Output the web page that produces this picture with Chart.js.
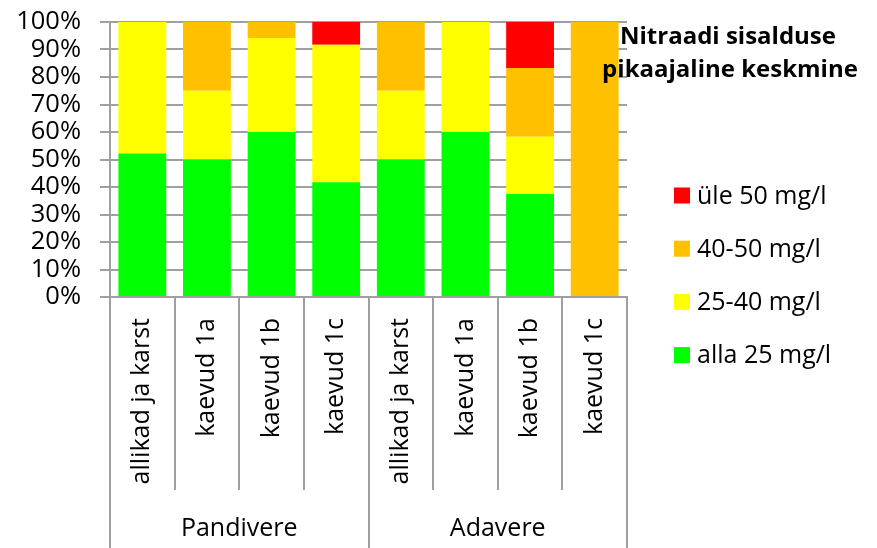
<!DOCTYPE html>
<html>
<head>
<meta charset="utf-8">
<script src="https://cdn.jsdelivr.net/npm/chart.js@4"></script>
<style>
html,body{margin:0;padding:0;background:#fff;}
#wrap{width:877px;height:548px;position:relative;}
</style>
</head>
<body>
<div id="wrap"><canvas id="c" width="877" height="548"></canvas></div>
<script>
const categories = ['allikad ja karst','kaevud 1a','kaevud 1b','kaevud 1c','allikad ja karst','kaevud 1a','kaevud 1b','kaevud 1c'];
const groups = ['Pandivere','Adavere'];
const alla25 = [52.2, 50, 60, 41.7, 50, 60, 37.5, 0];
const v25_40 = [47.8, 25, 34.2, 50, 25, 40, 20.8, 0];
const v40_50 = [0, 25, 5.8, 0, 25, 0, 25, 100];
const yle50  = [0, 0, 0, 8.3, 0, 0, 16.7, 0];
const seriesNames = ['alla 25 mg/l','25-40 mg/l','40-50 mg/l','üle 50 mg/l'];
const seriesColors = ['#00FF00','#FFFF00','#FFC000','#FF0000'];
const yTicks = [0,10,20,30,40,50,60,70,80,90,100];
const titleLines = ['Nitraadi sisalduse','pikaajaline keskmine'];

const FONT = "'Open Sans', sans-serif";
const GRID = '#a0a0a0';

const customLegendTitle = {
  id: 'customLegendTitle',
  afterDraw(chart) {
    const ctx = chart.ctx;
    ctx.save();
    ctx.fillStyle = '#000';
    ctx.font = "bold 24px " + FONT;
    ctx.textAlign = 'center';
    ctx.textBaseline = 'alphabetic';
    ctx.fillText(titleLines[0], 728, 44);
    ctx.fillText(titleLines[1], 730, 77);
    ctx.font = "25px " + FONT;
    ctx.textAlign = 'left';
    ctx.textBaseline = 'middle';
    const ds = chart.data.datasets;
    const n = ds.length;
    for (let i = 0; i < n; i++) {
      const d = ds[n - 1 - i];
      const cy = 195.5 + i * 53.2;
      ctx.fillStyle = d.backgroundColor;
      ctx.fillRect(674, cy - 8, 16, 16);
      ctx.fillStyle = '#000';
      ctx.fillText(d.label, 697, cy + 1);
    }
    ctx.restore();
  }
};

const data = {
  labels: categories,
  datasets: [
    {label: seriesNames[0], data: alla25, backgroundColor: seriesColors[0]},
    {label: seriesNames[1], data: v25_40, backgroundColor: seriesColors[1]},
    {label: seriesNames[2], data: v40_50, backgroundColor: seriesColors[2]},
    {label: seriesNames[3], data: yle50, backgroundColor: seriesColors[3]}
  ]
};

new Chart(document.getElementById('c'), {
  type: 'bar',
  data: data,
  options: {
    responsive: false,
    animation: false,
    devicePixelRatio: 1,
    layout: {padding: {top: 22, right: 250, bottom: 0, left: 0}},
    datasets: {bar: {categoryPercentage: 1, barPercentage: 0.74, borderWidth: 0}},
    plugins: {legend: {display: false}, title: {display: false}, tooltip: {enabled: false}},
    scales: {
      x: {
        stacked: true,
        position: 'bottom',
        weight: 0,
        offset: true,
        grid: {display: true, drawOnChartArea: false, drawTicks: true, tickLength: 193, offset: true, color: GRID, lineWidth: 2},
        border: {display: true, color: GRID, width: 2},
        ticks: {autoSkip: false, maxRotation: 90, minRotation: 90, padding: -172, color: '#000', font: {family: FONT, size: 25}},
        afterFit(s) { s.height = 193; }
      },
      x2: {
        type: 'category',
        labels: groups,
        position: 'bottom',
        weight: 1,
        offset: true,
        grid: {display: true, drawOnChartArea: false, drawTicks: true, tickLength: 58, offset: true, color: GRID, lineWidth: 2},
        border: {display: false},
        ticks: {autoSkip: false, maxRotation: 0, minRotation: 0, padding: -34, color: '#000', font: {family: FONT, size: 25}},
        afterFit(s) { s.height = 58; }
      },
      y: {
        stacked: true,
        min: 0,
        max: 100,
        afterBuildTicks(s) { s.ticks = yTicks.map(v => ({value: v})); },
        grid: {color: GRID, lineWidth: 2, tickLength: 10, drawTicks: true},
        border: {display: true, color: GRID, width: 2},
        ticks: {autoSkip: false, padding: 19, color: '#000', font: {family: FONT, size: 25.5}, callback: v => v + '%'},
        afterFit(s) { s.width = 110; s.paddingTop = 10; s.paddingBottom = 10; }
      }
    }
  },
  plugins: [customLegendTitle]
});
</script>
</body>
</html>
